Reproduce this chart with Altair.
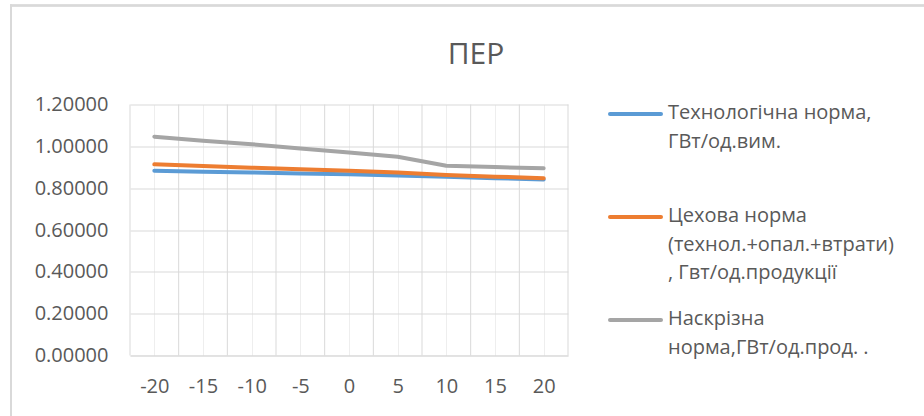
import altair as alt
import pandas as pd

# Outdoor temperature, °C
temps = [-20, -15, -10, -5, 0, 5, 10, 15, 20]

# Energy norms per series
tech_norm = [0.883, 0.879, 0.875, 0.870, 0.866, 0.860, 0.854, 0.848, 0.842]
shop_norm = [0.914, 0.906, 0.898, 0.891, 0.883, 0.875, 0.863, 0.855, 0.848]
through_norm = [1.046, 1.027, 1.010, 0.990, 0.970, 0.950, 0.907, 0.901, 0.895]

series_names = [
    "Технологічна норма, ГВт/од.вим.",
    "Цехова норма (технол.+опал.+втрати), Гвт/од.продукції",
    "Наскрізна норма,ГВт/од.прод. .",
]
legend_lines = [
    "Технологічна норма,\nГВт/од.вим.",
    "Цехова норма\n(технол.+опал.+втрати)\n, Гвт/од.продукції",
    "Наскрізна\nнорма,ГВт/од.прод. .",
]
series_colors = ["#5b9bd5", "#ed7d31", "#a5a5a5"]
y_ticks = [0, 0.2, 0.4, 0.6, 0.8, 1.0, 1.2]

FONT = "Open Sans"
TEXT = "#595959"
GRID = "#d9d9d9"

W, H = 438, 251

values = [tech_norm, shop_norm, through_norm]
df = pd.DataFrame(
    [
        {"series": name, "t": t, "v": v}
        for name, vals in zip(series_names, values)
        for t, v in zip(temps, vals)
    ]
)

step = temps[1] - temps[0]
x_scale = alt.Scale(domain=[temps[0] - step / 2, temps[-1] + step / 2], nice=False, zero=False)
y_scale = alt.Scale(domain=[y_ticks[0], y_ticks[-1]], nice=False)

x_axis = alt.Axis(
    values=temps,
    labelExpr="'' + datum.value",
    title=None,
    ticks=False,
    domain=True,
    domainColor=GRID,
    grid=True,
    gridColor="#eeeeee",
    labelFont=FONT,
    labelFontSize=20,
    labelColor=TEXT,
    labelPadding=21,
)
y_axis = alt.Axis(
    values=y_ticks,
    format=".5f",
    title=None,
    ticks=False,
    domain=False,
    grid=True,
    gridColor=GRID,
    labelFont=FONT,
    labelFontSize=20,
    labelColor=TEXT,
    labelPadding=22,
)

# Category boundaries (between the temperature points)
bounds = pd.DataFrame({"b": [t - step / 2 for t in temps] + [temps[-1] + step / 2]})
boundary_rules = alt.Chart(bounds).mark_rule(color=GRID, strokeWidth=1).encode(
    x=alt.X("b:Q", scale=x_scale, axis=x_axis),
    y=alt.Y(datum=y_ticks[0], scale=y_scale, axis=y_axis),
    y2=alt.Y2(datum=y_ticks[-1]),
)

line_layers = []
for name, color in zip(series_names, series_colors):
    line_layers.append(
        alt.Chart(df)
        .transform_filter(alt.datum.series == name)
        .mark_line(color=color, strokeWidth=4, strokeCap="round", strokeJoin="round")
        .encode(
            x=alt.X("t:Q", scale=x_scale, axis=x_axis),
            y=alt.Y("v:Q", scale=y_scale, axis=y_axis),
        )
    )

plot = alt.layer(boundary_rules, *line_layers)

# Legend drawn to the right of the plot area
leg_df = pd.DataFrame({"idx": [0, 1, 2], "label": legend_lines, "color": series_colors})
leg_y = alt.Y("idx:O", axis=None, scale=alt.Scale(type="point", range=[9.5, 215.5], padding=0))
leg_symbols = alt.Chart(leg_df).mark_rule(strokeWidth=4, strokeCap="round").encode(
    x=alt.value(480),
    x2=alt.value(531),
    y=leg_y,
    color=alt.Color("color:N", scale=None, legend=None),
)
leg_text = alt.Chart(leg_df).mark_text(
    align="left",
    baseline="top",
    dy=-11,
    lineBreak="\n",
    lineHeight=28.5,
    font=FONT,
    fontSize=20,
    color=TEXT,
).encode(x=alt.value(538), y=leg_y, text="label:N")
legend = alt.layer(leg_symbols, leg_text)

# Chart frame lines (top and left edges)
frame_top = alt.Chart(leg_df).mark_rule(color=GRID, strokeWidth=2).encode(
    x=alt.value(-120), x2=alt.value(800), y=alt.value(-99)
)
frame_left = alt.Chart(leg_df).mark_rule(color=GRID, strokeWidth=2).encode(
    x=alt.value(-119), y=alt.value(-100), y2=alt.value(320)
)

chart = (
    alt.layer(plot, legend, frame_top, frame_left)
    .resolve_scale(y="independent")
    .properties(
        width=W,
        height=H,
        autosize=alt.AutoSizeParams(type="none"),
        padding={"left": 130, "top": 104.5, "right": 924 - 130 - W, "bottom": 416 - 104.5 - H},
        title=alt.TitleParams(
            "ПЕР",
            font=FONT,
            fontSize=30,
            fontWeight="normal",
            color=TEXT,
            anchor="middle",
            frame="group",
            dx=127,
            dy=70,
        ),
        background="white",
    )
    .configure_view(strokeWidth=0)
)

chart.save("out.html", embed_options={"renderer": "svg", "actions": False})
